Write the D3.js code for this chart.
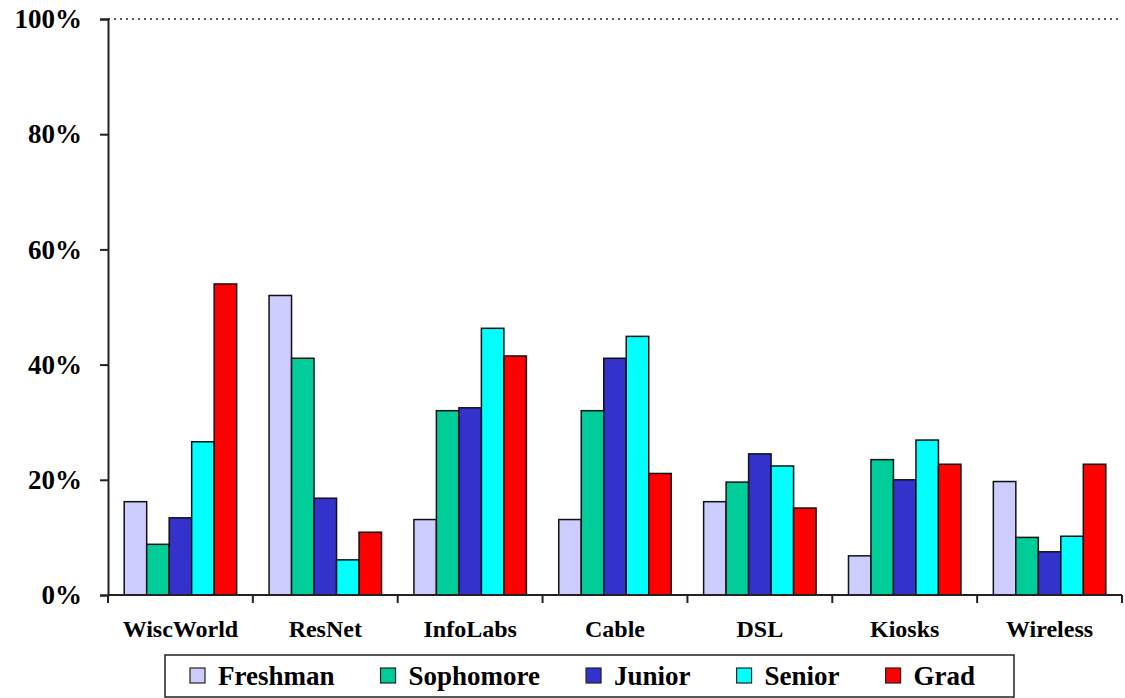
<!DOCTYPE html>
<html>
<head>
<meta charset="utf-8">
<script src="https://cdn.jsdelivr.net/npm/d3@7"></script>
<style>
  html, body { margin: 0; padding: 0; background: #fff; }
  svg { display: block; }
  text { font-family: "Liberation Serif", "Times New Roman", serif; font-weight: bold; fill: #000; }
</style>
</head>
<body>
<svg id="chart" width="1125" height="698"></svg>
<script>
// Network access points by student class
const categories = ["WiscWorld", "ResNet", "InfoLabs", "Cable", "DSL", "Kiosks", "Wireless"];
const seriesNames = ["Freshman", "Sophomore", "Junior", "Senior", "Grad"];
const seriesColors = ["#ccccff", "#00cc99", "#3333cc", "#00ffff", "#ff0000"];

const freshman  = [16.2, 52.0, 13.1, 13.1, 16.2,  6.8, 19.7];
const sophomore = [ 8.8, 41.1, 32.0, 32.0, 19.6, 23.5, 10.0];
const junior    = [13.4, 16.8, 32.5, 41.1, 24.5, 20.0,  7.5];
const senior    = [26.6,  6.1, 46.3, 44.9, 22.4, 26.9, 10.2];
const grad      = [54.0, 10.9, 41.5, 21.1, 15.1, 22.7, 22.7];

const yTicks = [0, 20, 40, 60, 80, 100];
const yTickLabels = ["0%", "20%", "40%", "60%", "80%", "100%"];

const seriesValues = [freshman, sophomore, junior, senior, grad];

const svg = d3.select("#chart");
const plotLeft = 108, plotRight = 1122, plotTop = 19, plotBottom = 595;

const x0 = d3.scaleBand().domain(categories).range([plotLeft, plotRight]).padding(0);
const x1 = d3.scaleBand().domain(seriesNames).range([0, x0.bandwidth()]).paddingInner(0).paddingOuter(0.72);
const y = d3.scaleLinear().domain([0, 100]).range([plotBottom, plotTop]);

// dotted line at the top of the scale
svg.append("line")
  .attr("x1", plotLeft).attr("x2", plotRight)
  .attr("y1", y(100)).attr("y2", y(100))
  .attr("stroke", "#222").attr("stroke-width", 1.5)
  .attr("stroke-dasharray", "2,4");

// bars
const groups = svg.append("g").selectAll("g")
  .data(categories)
  .join("g")
  .attr("transform", d => `translate(${x0(d)},0)`);

groups.selectAll("rect")
  .data((c, ci) => seriesNames.map((s, si) => ({ s, si, v: seriesValues[si][ci] })))
  .join("rect")
  .attr("x", d => x1(d.s))
  .attr("width", x1.bandwidth())
  .attr("y", d => y(d.v))
  .attr("height", d => y(0) - y(d.v))
  .attr("fill", d => seriesColors[d.si])
  .attr("stroke", "#111")
  .attr("stroke-width", 1.5);

// y axis
const yAxis = d3.axisLeft(y)
  .tickValues(yTicks)
  .tickFormat((d, i) => yTickLabels[i])
  .tickSize(8)
  .tickPadding(18);
const yg = svg.append("g").attr("transform", `translate(${plotLeft},0)`).call(yAxis);
yg.select(".domain").attr("stroke", "#222").attr("stroke-width", 2);
yg.selectAll(".tick line").attr("stroke", "#222").attr("stroke-width", 2);
yg.selectAll(".tick text")
  .style("font-size", "27px")
  .style("font-family", "'Liberation Serif', serif")
  .style("font-weight", "bold")
  .attr("fill", "#000");

// x axis: ticks at the category boundaries
const xg = svg.append("g");
xg.append("line")
  .attr("x1", plotLeft).attr("x2", plotRight)
  .attr("y1", y(0)).attr("y2", y(0))
  .attr("stroke", "#222").attr("stroke-width", 2);
const boundaries = categories.map(c => x0(c)).concat([x0(categories[categories.length - 1]) + x0.bandwidth()]);
xg.selectAll("line.bt")
  .data(boundaries)
  .join("line")
  .attr("class", "bt")
  .attr("x1", d => d).attr("x2", d => d)
  .attr("y1", y(0)).attr("y2", y(0) + 8)
  .attr("stroke", "#222").attr("stroke-width", 2);
xg.selectAll("text.cat")
  .data(categories)
  .join("text")
  .attr("class", "cat")
  .attr("x", d => x0(d) + x0.bandwidth() / 2)
  .attr("y", 637)
  .attr("text-anchor", "middle")
  .style("font-size", "24px")
  .text(d => d);

// legend
const legend = svg.append("g");
legend.append("rect")
  .attr("x", 165).attr("y", 655)
  .attr("width", 849).attr("height", 42)
  .attr("fill", "#fff")
  .attr("stroke", "#222").attr("stroke-width", 1.5);

let lx = 190;
seriesNames.forEach((name, i) => {
  legend.append("rect")
    .attr("x", lx).attr("y", 668)
    .attr("width", 15).attr("height", 15)
    .attr("fill", seriesColors[i])
    .attr("stroke", "#222").attr("stroke-width", 1.2);
  const t = legend.append("text")
    .attr("x", lx + 28).attr("y", 685)
    .style("font-size", "27px")
    .text(name);
  lx = lx + 28 + t.node().getComputedTextLength() + 46;
});
</script>
</body>
</html>
